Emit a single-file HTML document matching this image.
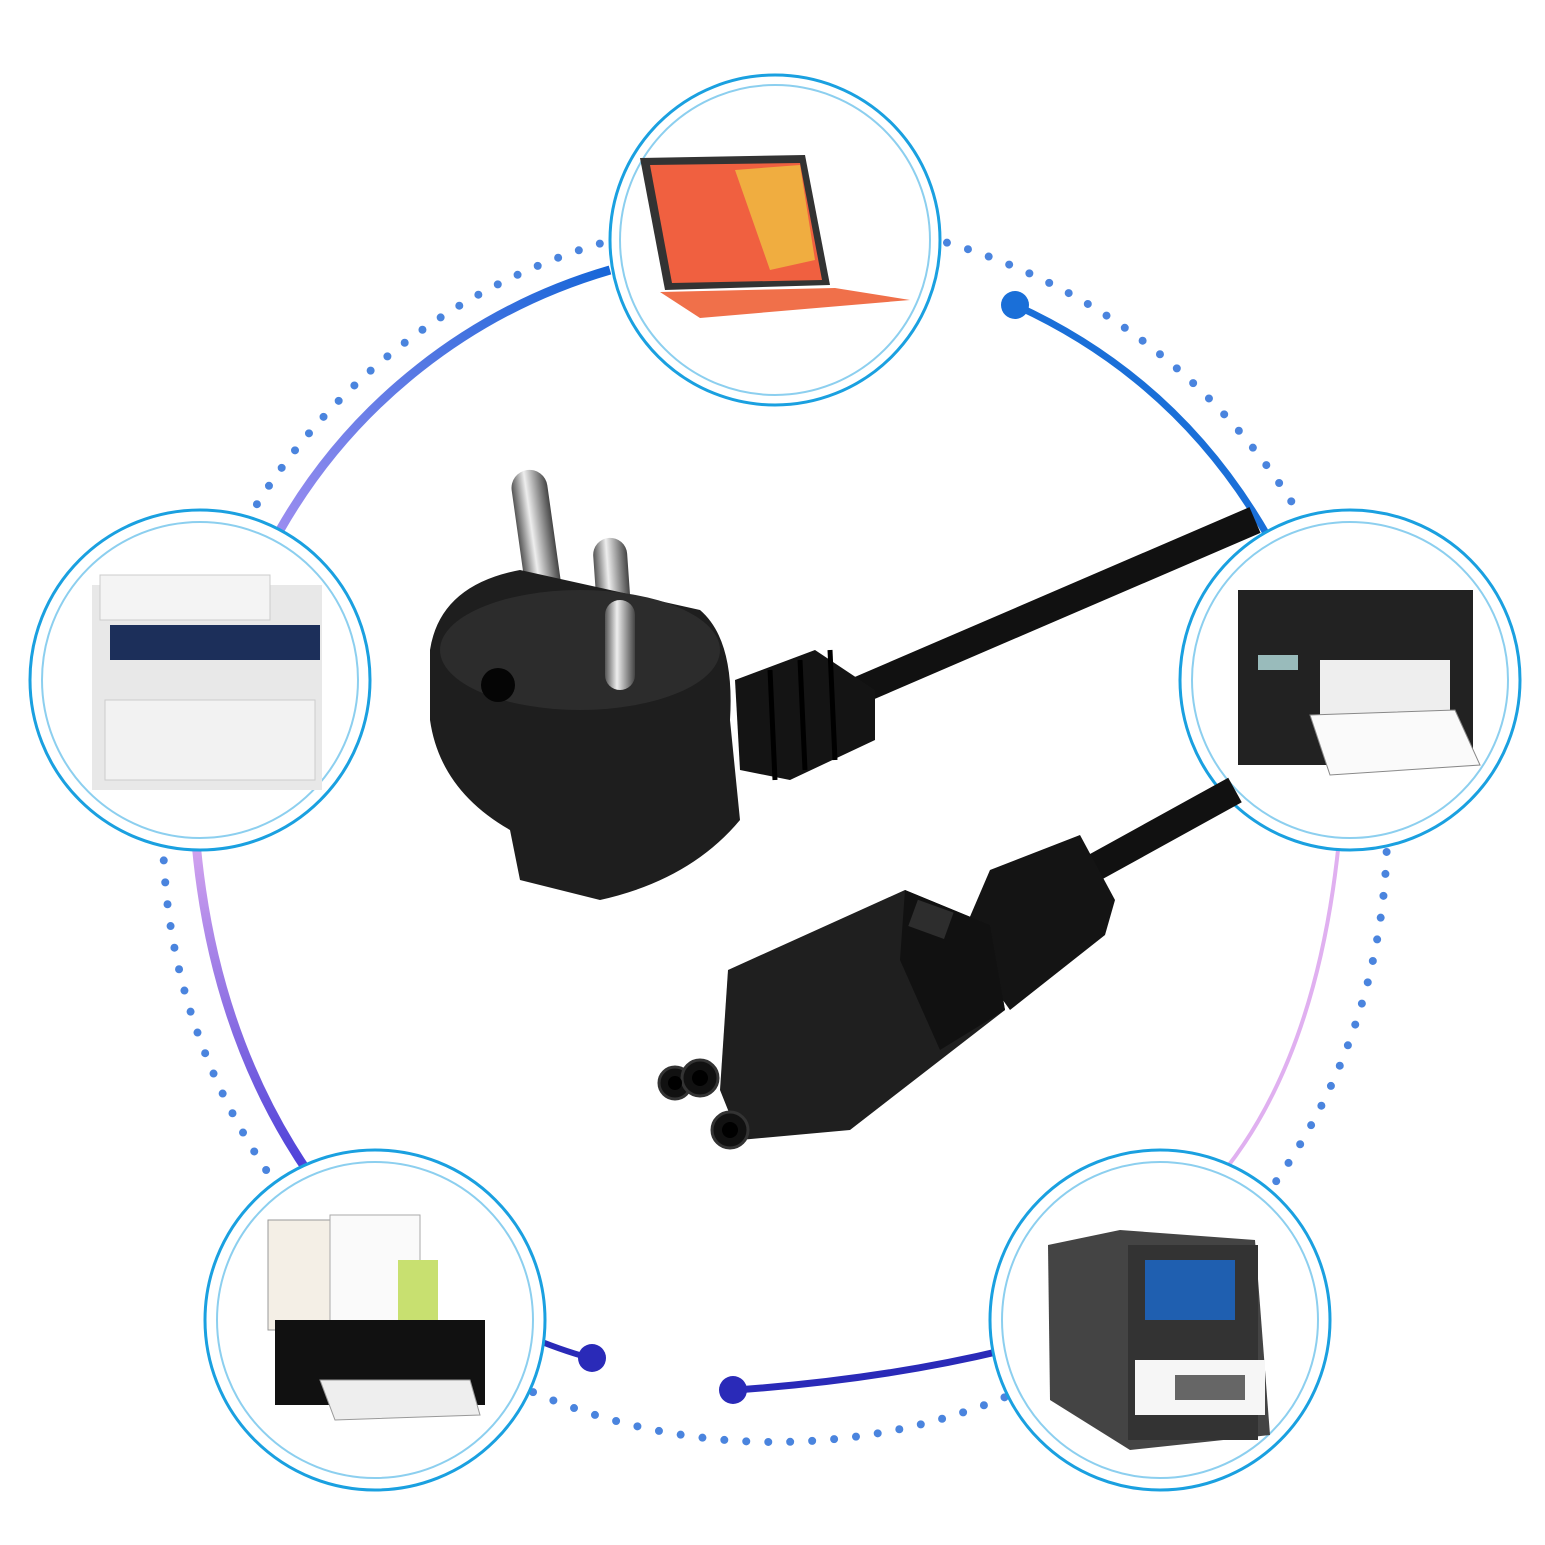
<!DOCTYPE html><html><head><style>body{margin:0;background:#fff}svg{display:block}</style></head><body>
<svg width="1545" height="1545" viewBox="0 0 1545 1545" xmlns="http://www.w3.org/2000/svg">
<defs>
<linearGradient id="lg1" x1="0" y1="1" x2="1" y2="0"><stop offset="0" stop-color="#9a8cf0"/><stop offset="1" stop-color="#1766d8"/></linearGradient>
<linearGradient id="lg2" x1="0" y1="0" x2="0" y2="1"><stop offset="0" stop-color="#d9a8f0"/><stop offset="1" stop-color="#4a3fd8"/></linearGradient>
<linearGradient id="pin" x1="0" x2="1"><stop offset="0" stop-color="#555"/><stop offset=".4" stop-color="#eee"/><stop offset="1" stop-color="#444"/></linearGradient>
</defs>
<circle cx="775" cy="830" r="612" fill="none" stroke="#2a6fd8" stroke-width="8" stroke-linecap="round" stroke-dasharray="0 22" opacity=".85"/>
<path d="M280,530 A560,560 0 0 1 610,270" fill="none" stroke="url(#lg1)" stroke-width="9"/>
<path d="M1015,305 Q1180,380 1270,540" fill="none" stroke="#1a6fd8" stroke-width="7"/>
<circle cx="1015" cy="305" r="14" fill="#1a6fd8"/>
<path d="M195,830 Q210,1030 310,1175" fill="none" stroke="url(#lg2)" stroke-width="9"/>
<path d="M1340,830 Q1320,1050 1225,1170" fill="none" stroke="#e0b0f0" stroke-width="4"/>
<path d="M525,1335 Q560,1350 590,1358" fill="none" stroke="#2a2ab8" stroke-width="6"/>
<circle cx="592" cy="1358" r="14" fill="#2a2ab8"/>
<path d="M735,1390 Q880,1380 1005,1350" fill="none" stroke="#2a2ab8" stroke-width="7"/>
<circle cx="733" cy="1390" r="14" fill="#2a2ab8"/>
<g fill="#fff" stroke="#1aa0e0">
<circle cx="775" cy="240" r="165" stroke-width="3"/><circle cx="775" cy="240" r="155" fill="none" stroke-width="2" opacity=".5"/>
<circle cx="200" cy="680" r="170" stroke-width="3"/><circle cx="200" cy="680" r="158" fill="none" stroke-width="2" opacity=".5"/>
<circle cx="1350" cy="680" r="170" stroke-width="3"/><circle cx="1350" cy="680" r="158" fill="none" stroke-width="2" opacity=".5"/>
<circle cx="375" cy="1320" r="170" stroke-width="3"/><circle cx="375" cy="1320" r="158" fill="none" stroke-width="2" opacity=".5"/>
<circle cx="1160" cy="1320" r="170" stroke-width="3"/><circle cx="1160" cy="1320" r="158" fill="none" stroke-width="2" opacity=".5"/>
</g>
<polygon points="640,158 805,155 830,285 665,290" fill="#333"/>
<polygon points="650,165 800,163 822,280 672,283" fill="#f06040"/>
<polygon points="735,170 800,165 815,260 770,270" fill="#f0c040" opacity=".8"/>
<polygon points="660,292 835,288 910,300 700,318" fill="#f0704a"/>
<rect x="92" y="585" width="230" height="205" fill="#e8e8e8"/>
<rect x="100" y="575" width="170" height="45" fill="#f4f4f4" stroke="#ccc"/>
<rect x="110" y="625" width="210" height="35" fill="#1c2f5a"/>
<rect x="105" y="700" width="210" height="80" fill="#f2f2f2" stroke="#ccc"/>
<rect x="1238" y="590" width="235" height="175" fill="#222"/>
<rect x="1320" y="660" width="130" height="55" fill="#eee"/>
<polygon points="1310,715 1455,710 1480,765 1330,775" fill="#fafafa" stroke="#888"/>
<rect x="1258" y="655" width="40" height="15" fill="#9bb"/>
<rect x="268" y="1220" width="130" height="110" fill="#f4efe6" stroke="#999"/>
<rect x="330" y="1215" width="90" height="110" fill="#fafafa" stroke="#aaa"/>
<rect x="398" y="1260" width="40" height="70" fill="#c8e070"/>
<rect x="275" y="1320" width="210" height="85" fill="#111"/>
<polygon points="320,1380 470,1380 480,1415 335,1420" fill="#eee" stroke="#999"/>
<polygon points="1048,1245 1120,1230 1255,1240 1270,1435 1130,1450 1050,1400" fill="#444"/>
<rect x="1128" y="1245" width="130" height="195" fill="#333"/>
<rect x="1145" y="1260" width="90" height="60" fill="#1f5fb0"/>
<rect x="1135" y="1360" width="130" height="55" fill="#f6f6f6"/>
<rect x="1175" y="1375" width="70" height="25" fill="#666"/>
<line x1="860" y1="690" x2="1255" y2="520" stroke="#111" stroke-width="28"/>
<line x1="1090" y1="870" x2="1235" y2="790" stroke="#111" stroke-width="28"/>
<rect x="509" y="470" width="36" height="180" rx="18" fill="url(#pin)" transform="rotate(-8 527 470)"/>
<rect x="592" y="538" width="34" height="160" rx="17" fill="url(#pin)" transform="rotate(-4 607 538)"/>
<path d="M430,650 Q440,585 520,570 L700,610 Q735,640 730,720 L740,820 Q690,880 600,900 L520,880 L510,830 Q440,790 430,720 Z" fill="#1e1e1e"/>
<ellipse cx="580" cy="650" rx="140" ry="60" fill="#2c2c2c"/>
<circle cx="498" cy="685" r="17" fill="#050505"/>
<rect x="605" y="600" width="30" height="90" rx="15" fill="url(#pin)"/>
<path d="M735,680 L815,650 L875,690 L875,740 L790,780 L740,770 Z" fill="#141414"/>
<g stroke="#000" stroke-width="5"><line x1="770" y1="670" x2="775" y2="780"/><line x1="800" y1="660" x2="805" y2="770"/><line x1="830" y1="650" x2="835" y2="760"/></g>
<path d="M990,870 L1080,835 L1115,900 L1105,935 L1010,1010 L960,940 Z" fill="#141414"/>
<path d="M728,970 L905,890 L990,925 L1005,1010 L850,1130 L740,1140 L720,1090 Z" fill="#1f1f1f"/>
<polygon points="905,890 990,925 1005,1010 940,1050 900,960" fill="#111"/>
<rect x="912" y="905" width="38" height="28" fill="#2d2d2d" transform="rotate(20 930 919)"/>
<g fill="#111" stroke="#333" stroke-width="3"><circle cx="675" cy="1083" r="16"/><circle cx="700" cy="1078" r="18"/><circle cx="730" cy="1130" r="18"/></g>
<g fill="#000"><circle cx="675" cy="1083" r="7"/><circle cx="700" cy="1078" r="8"/><circle cx="730" cy="1130" r="8"/></g>
</svg>
</body></html>
